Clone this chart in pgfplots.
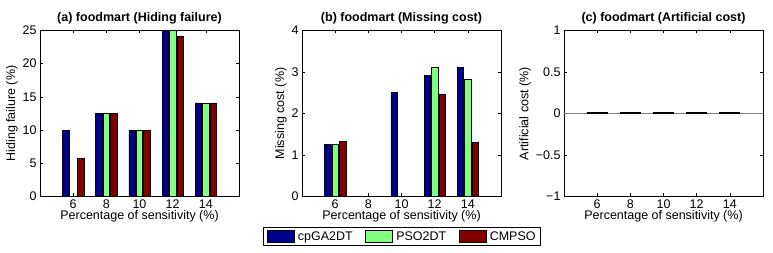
\documentclass[border=0pt]{standalone}
\usepackage{pgfplots}
\pgfplotsset{compat=1.18}
\usepackage{fontspec}
\setmainfont{Liberation Sans}
\definecolor{cblue}{rgb}{0,0,0.5625}
\definecolor{cgreen}{rgb}{0.5,1,0.5}
\definecolor{cred}{rgb}{0.5,0,0}
\pgfplotsset{
  myax/.style={
    scale only axis, width=199pt, height=166pt,
    xmin=4, xmax=16, xtick={6,8,10,12,14},
    tick pos=both, tick align=inside, major tick length=3pt,
    /pgf/number format/assume math mode=true,
    tick label style={font=\fontsize{12.5}{14}\selectfont},
    label style={font=\fontsize{12.5}{14}\selectfont},
    title style={font=\fontsize{12.5}{14}\selectfont\bfseries, yshift=-3pt},
    xlabel={Percentage of sensitivity (\%)},
    xlabel style={yshift=5pt},
    ylabel style={yshift=-2pt},
    axis line style={line width=0.7pt},
    every tick/.style={line width=0.5pt},
  },
  b1/.style={ybar, bar width=0.39, fill=cblue, draw=black, line width=0.5pt, bar shift=-0.444},
  b2/.style={ybar, bar width=0.39, fill=cgreen, draw=black, line width=0.5pt, bar shift=0},
  b3/.style={ybar, bar width=0.39, fill=cred, draw=black, line width=0.5pt, bar shift=0.444},
  zdash/.style={black, line width=2pt, forget plot, no marks},
}
\begin{document}
\begin{tikzpicture}
\useasboundingbox (0pt,0pt) rectangle (773pt,253pt);
% (a)
\begin{axis}[myax, at={(40pt,56.5pt)}, anchor=south west,
  ymin=0, ymax=25, ytick={0,5,10,15,20,25},
  ylabel={Hiding failure (\%)},
  title={(a) foodmart (Hiding failure)}]
\addplot[b1] coordinates {(6,10) (8,12.5) (10,10) (12,25) (14,14.1)};
\addplot[b2] coordinates {(6,0) (8,12.5) (10,10) (12,25) (14,14.1)};
\addplot[b3] coordinates {(6,5.7) (8,12.5) (10,10) (12,24.2) (14,14.1)};
\end{axis}
% (b)
\begin{axis}[myax, at={(302pt,56.5pt)}, anchor=south west,
  ymin=0, ymax=4, ytick={0,1,2,3,4},
  ylabel={Missing cost (\%)},
  title={(b) foodmart (Missing cost)},
  legend columns=3, legend cell align=left,
  legend style={at={(0.5,-0.241)}, anchor=center, draw=black, line width=0.6pt,
    font=\fontsize{12.5}{14}\selectfont, inner xsep=4pt, inner ysep=2.5pt,
    nodes={inner sep=0.5pt},
    /tikz/every odd column/.append style={column sep=3pt},
    /tikz/every even column/.append style={column sep=12pt}},
  legend image code/.code={\draw[#1, line width=0.5pt] (0pt,-6pt) rectangle (27pt,6pt);}]
\addplot[b1] coordinates {(6,1.26) (8,0) (10,2.51) (12,2.91) (14,3.12)};
\addplot[b2] coordinates {(6,1.26) (8,0) (10,0) (12,3.12) (14,2.82)};
\addplot[b3] coordinates {(6,1.33) (8,0) (10,0) (12,2.46) (14,1.31)};
\legend{cpGA2DT, PSO2DT, CMPSO}
\end{axis}
% (c)
\begin{axis}[myax, at={(564pt,56.5pt)}, anchor=south west,
  ymin=-1, ymax=1, ytick={-1,-0.5,0,0.5,1},
  yticklabels={−1,−0.5,0,0.5,1},
  ylabel={Artificial cost (\%)},
  title={(c) foodmart (Artificial cost)}]
\addplot[draw=gray, line width=1pt, no marks] coordinates {(4,0) (16,0)};
\addplot[b1] coordinates {(6,0) (8,0) (10,0) (12,0) (14,0)};
\addplot[b2] coordinates {(6,0) (8,0) (10,0) (12,0) (14,0)};
\addplot[b3] coordinates {(6,0) (8,0) (10,0) (12,0) (14,0)};
% zero-height bars shown as their black edges
\addplot[zdash] coordinates {(5.361,0) (6.639,0)};
\addplot[zdash] coordinates {(7.361,0) (8.639,0)};
\addplot[zdash] coordinates {(9.361,0) (10.639,0)};
\addplot[zdash] coordinates {(11.361,0) (12.639,0)};
\addplot[zdash] coordinates {(13.361,0) (14.639,0)};
\end{axis}
\end{tikzpicture}
\end{document}
